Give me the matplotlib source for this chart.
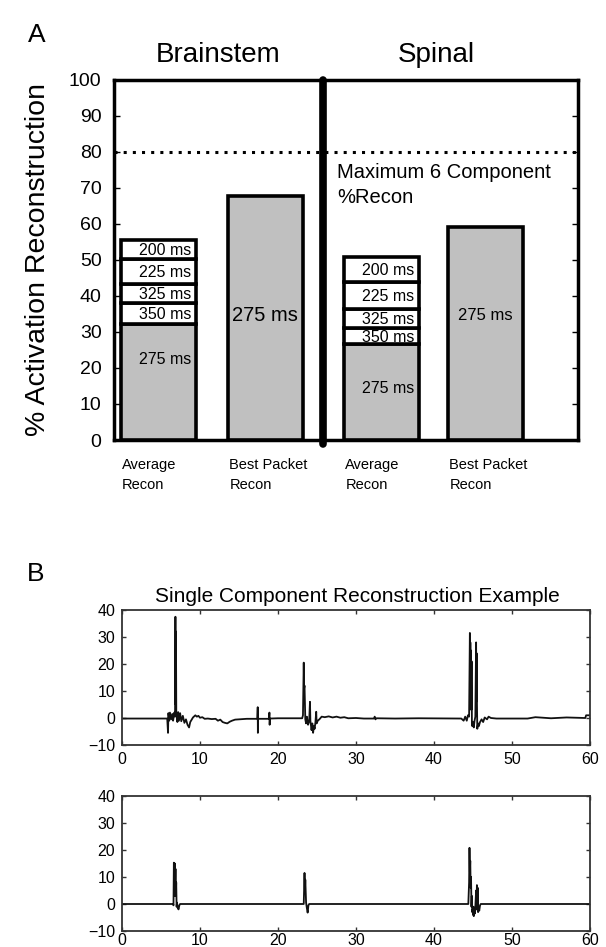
import matplotlib
matplotlib.use('Agg')
import matplotlib.pyplot as plt
import numpy as np

plt.rcParams['font.family'] = ['Liberation Sans', 'DejaVu Sans']

# ---------------- data ----------------
regions = ['Brainstem', 'Spinal']
bar_kinds = ['Average\nRecon', 'Best Packet\nRecon']
packet_labels = ['275 ms', '350 ms', '325 ms', '225 ms', '200 ms']   # bottom -> top
brainstem_avg = [32.1, 5.9, 5.3, 6.9, 5.3]
spinal_avg = [26.6, 4.4, 5.3, 7.5, 6.9]
best_packet = [67.8, 59.2]
best_label = '275 ms'
max_six = 80
max_text = 'Maximum 6 Component\n%Recon'
yticks_a = list(range(0, 101, 10))

top_trace = [
    (0, -0.2), (5.8, -0.2), (5.9, -5.5), (5.95, 1.8), (6.05, -1.0), (6.15, 2.0),
    (6.3, -0.5), (6.45, 1.5), (6.55, -1.0), (6.7, 2.0), (6.8, 0.5), (6.85, 37.5),
    (6.88, 5.0), (6.92, 32.0), (6.96, 1.0), (7.0, 1.0), (7.1, -1.5), (7.2, 2.2),
    (7.3, -1.0), (7.45, 1.8), (7.6, -1.2), (7.8, 0.8), (8.0, -1.8), (8.2, -0.5),
    (8.4, -2.5), (8.6, -3.5), (8.75, -1.5), (8.9, -0.8), (9.1, 0.2), (9.4, 1.0),
    (9.6, 0.5), (9.8, 0.8), (10.0, 0.1), (10.3, 0.3), (10.6, -0.3), (11.0, -0.2),
    (11.5, -0.4), (12.0, -0.3), (12.3, -1.0), (12.6, -0.6), (12.9, -1.5),
    (13.2, -1.8), (13.5, -2.0), (13.8, -1.4), (14.1, -1.0), (14.5, -0.6),
    (15.0, -0.5), (16.0, -0.3), (17.35, -0.3), (17.4, 4.0), (17.42, -5.5),
    (17.45, -0.3), (18.85, -0.3), (18.9, 2.0), (18.93, -2.5), (18.97, -0.2),
    (20.0, -0.1), (23.1, -0.1), (23.2, 1.0), (23.3, 20.5), (23.35, 11.0),
    (23.4, 12.0), (23.5, -0.5), (23.6, -2.0), (23.7, 0.5), (23.85, -2.5),
    (24.0, -1.0), (24.1, 6.0), (24.15, -1.0), (24.3, -4.5), (24.4, -2.0),
    (24.5, -5.5), (24.6, -3.0), (24.7, -4.0), (24.8, -1.5), (24.9, 2.3),
    (24.95, -2.0), (25.1, -1.0), (25.3, -0.5), (25.6, 0.5), (26.0, 0.3),
    (26.5, 0.6), (27.0, 0.2), (27.5, 0.5), (28.0, 0.1), (28.5, 0.3), (29.0, -0.1),
    (30.0, 0.0), (31.0, -0.2), (32.3, -0.2), (32.4, 0.5), (32.5, -0.5),
    (32.6, -0.1), (35.0, -0.2), (38.0, -0.1), (43.5, -0.2), (43.8, -1.0),
    (44.0, 0.5), (44.2, -1.0), (44.35, 1.0), (44.5, 0.5), (44.6, 31.5),
    (44.62, 5.0), (44.66, 28.0), (44.7, 8.0), (44.73, 25.0), (44.78, 3.0),
    (44.82, 21.0), (44.86, -2.0), (44.9, -3.0), (45.0, -1.5), (45.1, -3.5),
    (45.2, -1.0), (45.3, 0.5), (45.4, 28.0), (45.43, 6.0), (45.46, 24.0),
    (45.5, 7.5), (45.55, -4.0), (45.65, -2.0), (45.75, -3.0), (45.9, -1.5),
    (46.1, -0.5), (46.3, -1.5), (46.5, 0.2), (46.8, -0.5), (47.0, 0.5),
    (47.3, 0.0), (48.0, -0.2), (52.0, -0.2), (53.0, 0.3), (55.0, -0.1),
    (57.0, 0.2), (59.4, 0.0), (59.5, 1.0), (60.0, 1.0),
]

bottom_trace = [
    (0, 0), (6.55, 0), (6.6, -0.5), (6.65, 15.3), (6.68, 3.0), (6.72, 14.5),
    (6.75, 4.0), (6.78, 15.0), (6.82, 6.0), (6.86, 13.0), (6.9, 3.0), (6.95, 8.0),
    (7.0, -1.0), (7.05, 0.5), (7.15, -1.5), (7.25, -2.0), (7.35, -0.5), (7.45, 0),
    (23.3, 0), (23.4, 11.5), (23.45, 5.0), (23.5, 9.0), (23.6, 0.5), (23.7, -1.5),
    (23.8, -3.2), (23.9, -0.5), (24.0, 0), (44.4, 0), (44.5, 8.0), (44.55, 20.8),
    (44.6, 12.0), (44.65, 16.0), (44.7, 6.0), (44.75, 10.0), (44.8, -1.0),
    (44.85, 3.0), (44.9, -3.0), (44.95, -2.0), (45.0, -4.0), (45.05, -1.0),
    (45.1, -4.5), (45.2, -2.0), (45.25, -3.5), (45.3, -1.0), (45.4, 5.0),
    (45.45, -2.0), (45.5, 7.0), (45.55, -1.0), (45.6, 6.0), (45.65, -3.0),
    (45.7, -1.0), (45.8, -2.5), (45.9, -0.5), (46.0, 0), (60.0, 0),
]
xticks_b = list(range(0, 61, 10))
yticks_b = list(range(-10, 41, 10))
title_b = 'Single Component Reconstruction Example'

# ---------------- figure ----------------
W, H = 606, 947
fig = plt.figure(figsize=(W / 100, H / 100), dpi=100)

def fx(px):
    return px / W

def fy(py):
    return 1 - py / H

# ---- Panel A ----
axA = fig.add_axes([fx(114), fy(440), fx(578) - fx(114), fy(80) - fy(440)])
positions = [0.59, 2.02, 3.57, 4.96]
bw = 1.0
gray = '#c0c0c0'
edge_lw = 2.6

avg_sets = [brainstem_avg, spinal_avg]
avg_pos = [positions[0], positions[2]]
best_pos = [positions[1], positions[3]]
bottom_label_frac = [0.70, 0.54]

for k, (vals, xp) in enumerate(zip(avg_sets, avg_pos)):
    bottoms = np.concatenate([[0], np.cumsum(vals)[:-1]])
    for i, (v, b, lab) in enumerate(zip(vals, bottoms, packet_labels)):
        fc = gray if i == 0 else 'white'
        axA.bar(xp, v, bottom=b, width=bw, facecolor=fc, edgecolor='black',
                linewidth=edge_lw, zorder=3)
        if i == 0:
            ty = b + v * bottom_label_frac[k]
        else:
            ty = b + v / 2 - 0.3
        axA.text(xp + bw / 2 - 0.06, ty, lab, ha='right', va='center',
                 fontsize=11.5, zorder=4)

best_fs = [14.5, 12]
for k, (v, xp) in enumerate(zip(best_packet, best_pos)):
    axA.bar(xp, v, width=bw, facecolor=gray, edgecolor='black',
            linewidth=edge_lw, zorder=3)
    axA.text(xp, 34.7, best_label, ha='center', va='center',
             fontsize=best_fs[k], zorder=4)

axA.axhline(max_six, color='black', linewidth=2.2, dashes=(1, 2), zorder=2)
axA.text(2.98, 70.8, max_text, ha='left', va='center', fontsize=14.5,
         linespacing=1.4)
axA.axvline(2.79, ymin=-0.012, ymax=1.0, color='black', linewidth=5.5,
            solid_capstyle='round', clip_on=False, zorder=5)

axA.set_xlim(0, 6.2)
axA.set_ylim(0, 100)
axA.set_yticks(yticks_a)
axA.set_xticks([])
axA.tick_params(axis='y', direction='in', left=True, right=True, length=4,
                width=1, labelsize=14, pad=9)
for s in axA.spines.values():
    s.set_linewidth(2.5)
axA.set_ylabel('% Activation Reconstruction', fontsize=20.5, labelpad=13)

for k, xp in enumerate(positions):
    axA.text(xp - bw / 2 + 0.02, -5.0, bar_kinds[k % 2], ha='left', va='top',
             fontsize=10.5, linespacing=1.5, clip_on=False)

fig.text(fx(218), fy(55), regions[0], ha='center', va='center', fontsize=20)
fig.text(fx(436), fy(55), regions[1], ha='center', va='center', fontsize=20)
fig.text(fx(37), fy(35), 'A', ha='center', va='center', fontsize=19)

# ---- Panel B ----
fig.text(fx(36), fy(574), 'B', ha='center', va='center', fontsize=19)
fig.text(fx(357), fy(596), title_b, ha='center', va='center', fontsize=15)

traces = [top_trace, bottom_trace]
tops = [610, 796]
pads = [5, 1.5]
for tr, top, pd in zip(traces, tops, pads):
    ax = fig.add_axes([fx(122), fy(top + 135), fx(590) - fx(122), fy(top) - fy(top + 135)])
    t = np.array([p[0] for p in tr])
    v = np.array([p[1] for p in tr])
    ax.plot(t, v, color='#111111', linewidth=1.3)
    ax.set_xlim(0, 60)
    ax.set_ylim(-10, 40)
    ax.set_xticks(xticks_b)
    ax.set_yticks(yticks_b)
    ax.tick_params(direction='in', top=True, right=True, length=3, width=1,
                   labelsize=11.5, pad=5, color='#333333')
    ax.tick_params(axis='x', pad=pd)
    for s in ax.spines.values():
        s.set_linewidth(1.3)
        s.set_color('#333333')

fig.savefig('out.png', dpi=100)
